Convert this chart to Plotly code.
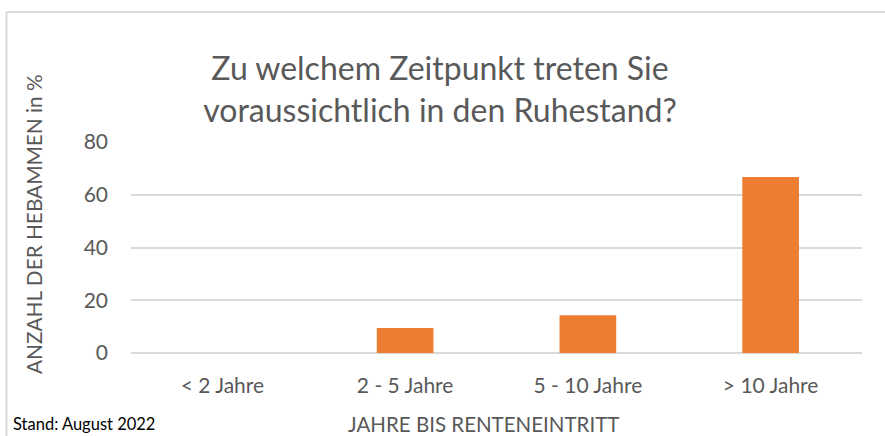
import plotly.graph_objects as go

categories = ["< 2 Jahre", "2 - 5 Jahre", "5 - 10 Jahre", "> 10 Jahre"]
values = [0, 9.5, 14.3, 66.7]
y_ticks = [0, 20, 40, 60, 80]

W, H = 885, 436
L, R, T, B = 131, 23, 142, 83
pw, ph = W - L - R, H - T - B
FONT = "Lato, 'Open Sans', sans-serif"
TXT = "#595959"

def px(x):
    return (x - L) / pw

def py(y):
    return (H - B - y) / ph

fig = go.Figure(go.Bar(x=categories, y=values, marker_color="#ED7D31",
                       marker_line_width=0, width=0.31))

fig.update_layout(
    width=W, height=H,
    margin=dict(l=L, r=R, t=T, b=B),
    plot_bgcolor="white", paper_bgcolor="white",
    font=dict(family=FONT, color=TXT),
    showlegend=False,
    title=dict(text="Zu welchem Zeitpunkt treten Sie<br>voraussichtlich in den Ruhestand?",
               x=440 / W, xanchor="center", xref="container",
               y=1 - 80 / H, yanchor="middle", yref="container",
               font=dict(size=32, color=TXT, family=FONT)),
    xaxis=dict(showgrid=False, showline=False, zeroline=False,
               tickfont=dict(size=21, color=TXT), ticklabelstandoff=18),
    yaxis=dict(range=[0, 80], tickvals=y_ticks, showgrid=True, gridcolor="#d9d9d9",
               gridwidth=1.5, zeroline=True, zerolinecolor="#d9d9d9", zerolinewidth=1.5,
               showline=False, tickfont=dict(size=21, color=TXT), ticklabelstandoff=22),
    shapes=[
        dict(type="line", xref="paper", yref="paper", x0=px(6.5), x1=px(895), y0=py(12), y1=py(12),
             line=dict(color="#d9d9d9", width=2)),
        dict(type="line", xref="paper", yref="paper", x0=px(6.5), x1=px(6.5), y0=py(12), y1=py(445),
             line=dict(color="#d9d9d9", width=2)),
    ],
    annotations=[
        dict(text="ANZAHL DER HEBAMMEN in %", xref="paper", yref="paper", x=px(33), y=py(224),
             xanchor="center", yanchor="middle", textangle=-90, showarrow=False,
             font=dict(size=20.8, color=TXT, family=FONT)),
        dict(text="JAHRE BIS RENTENEINTRITT", xref="paper", yref="paper", x=px(483), y=py(424),
             xanchor="center", yanchor="middle", showarrow=False,
             font=dict(size=20.5, color=TXT, family=FONT)),
        dict(text="Stand: August 2022", xref="paper", yref="paper", x=px(11), y=py(424),
             xanchor="left", yanchor="middle", showarrow=False,
             font=dict(size=16.5, color="#000000", family=FONT)),
    ],
)

fig.write_html("out.html", config={"displayModeBar": False},
               post_script="document.body.style.margin='0';")
